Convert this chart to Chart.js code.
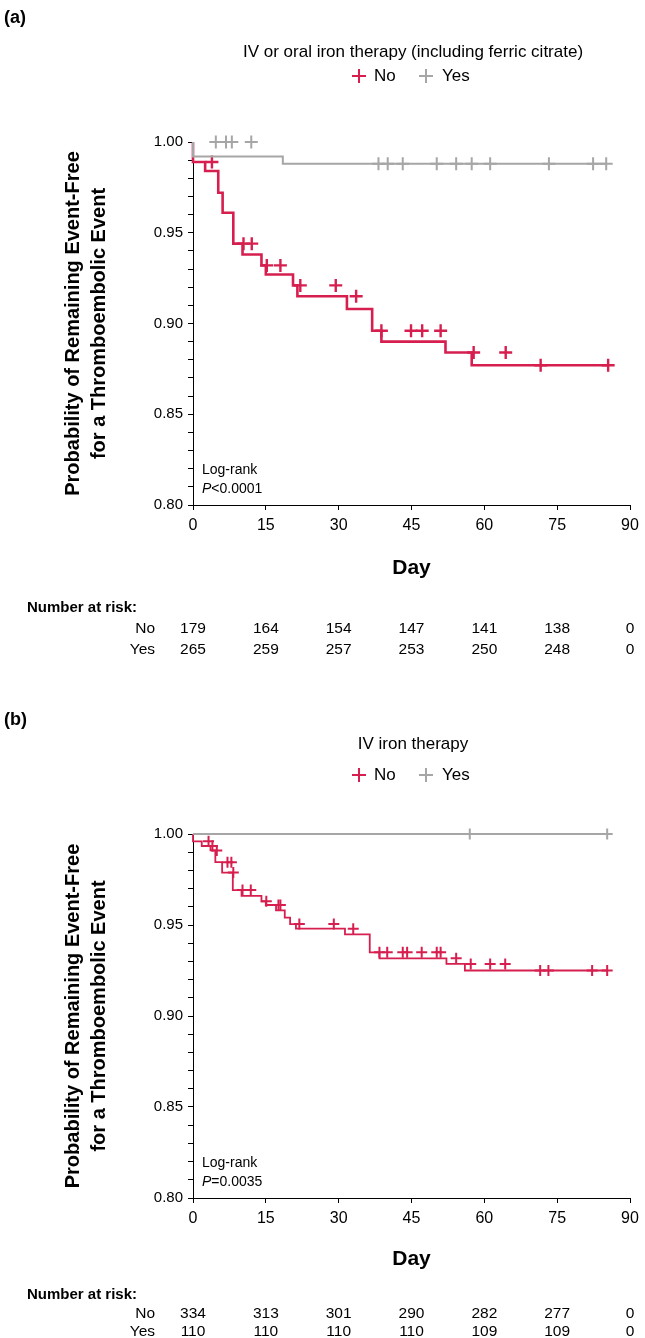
<!DOCTYPE html>
<html>
<head>
<meta charset="utf-8">
<script src="https://cdn.jsdelivr.net/npm/chart.js@4.4.1/dist/chart.umd.min.js"></script>
<style>
  body { margin: 0; width: 645px; height: 1338px; background: #fff; overflow: hidden; }
  canvas { position: absolute; left: 0; }
  #panelA { top: 0; }
  #panelB { top: 660px; }
</style>
</head>
<body>
<canvas id="panelA" width="645" height="660"></canvas>
<canvas id="panelB" width="645" height="678"></canvas>
<script>
const RED = "#d61f4f";
const GREY = "#a6a6a6";
const FONT = '"Liberation Sans", Arial, sans-serif';

const dayTicks = [0, 15, 30, 45, 60, 75, 90];

// (a) IV or oral iron therapy - step times and survival
const aNoT = [0, 2.5, 5.2, 6.1, 8.3, 10.2, 14.1, 15.0, 20.6, 21.5, 31.7, 36.9, 38.8, 52.0, 57.4, 71.3, 85.5];
const aNoS = [1.0, 0.989, 0.984, 0.972, 0.961, 0.944, 0.938, 0.932, 0.927, 0.921, 0.915, 0.908, 0.896, 0.890, 0.884, 0.877, 0.877];
const aNoCens = [3.9, 10.4, 12.1, 15.2, 18.0, 22.1, 29.4, 33.6, 38.8, 44.9, 47.2, 51.0, 57.8, 64.4, 71.6, 85.5];
const aYesT = [0, 18.5, 37.0, 85.1];
const aYesS = [1.0, 0.992, 0.988, 0.988];
const aYesCens = [4.7, 6.8, 8.0, 12.0, 38.2, 40.1, 43.2, 50.2, 54.2, 57.4, 61.2, 73.3, 82.4, 85.1];
const aRiskNo = [179, 164, 154, 147, 141, 138, 0];
const aRiskYes = [265, 259, 257, 253, 250, 248, 0];

// (b) IV iron therapy
const bNoT = [0, 1.8, 3.6, 4.6, 6.0, 8.2, 10.0, 14.1, 15.0, 17.1, 18.9, 20.0, 21.2, 31.3, 36.4, 38.4, 52.2, 56.0, 71.5, 85.3];
const bNoS = [1.0, 0.996, 0.9934, 0.991, 0.9845, 0.9788, 0.9692, 0.966, 0.963, 0.961, 0.958, 0.954, 0.9505, 0.948, 0.9449, 0.935, 0.9317, 0.9286, 0.925, 0.925];
const bNoCens = [3.2, 4.0, 4.9, 7.1, 7.9, 8.3, 10.2, 11.9, 15.1, 17.6, 18.0, 21.9, 29.0, 33.0, 38.4, 40.0, 43.2, 44.1, 47.1, 50.2, 51.0, 54.2, 57.2, 61.2, 64.3, 71.5, 73.2, 82.2, 85.3];
const bYesT = [0, 85.3];
const bYesS = [1.0, 1.0];
const bYesCens = [57.0, 85.3];
const bRiskNo = [334, 313, 301, 290, 282, 277, 0];
const bRiskYes = [110, 110, 110, 110, 109, 109, 0];

const yTitle = ["Probability of Remaining Event-Free", "for a Thromboembolic Event"];

Chart.defaults.font.family = FONT;
Chart.defaults.color = "#000";

function stepPoints(t, s) {
  return t.map((x, i) => ({ x: x, y: s[i] }));
}

// censor mark sits on the curve value at that day
function censorPoints(t, s, c) {
  return c.map((x) => {
    let v = s[0];
    for (let i = 0; i < t.length; i++) if (t[i] <= x) v = s[i];
    return { x: x, y: v };
  });
}

function drawCross(ctx, x, y, r, color, w) {
  ctx.strokeStyle = color;
  ctx.lineWidth = w;
  ctx.beginPath();
  ctx.moveTo(x - r, y); ctx.lineTo(x + r, y);
  ctx.moveTo(x, y - r); ctx.lineTo(x, y + r);
  ctx.stroke();
}

// headers, legend, log-rank note and number-at-risk table
const extras = {
  id: "extras",
  afterDraw(chart, args, o) {
    const ctx = chart.ctx;
    const xs = chart.scales.x;
    const area = chart.chartArea;
    ctx.save();
    ctx.fillStyle = "#000";
    ctx.textBaseline = "middle";

    ctx.font = "bold 18px " + FONT;
    ctx.textAlign = "left";
    ctx.fillText(o.letter, 4, o.letterY);

    ctx.font = "17px " + FONT;
    ctx.textAlign = "center";
    ctx.fillText(o.legendTitle, 413, o.legendTitleY);
    ctx.textAlign = "left";
    drawCross(ctx, 359, o.legendY, 7, RED, 2);
    ctx.fillStyle = "#000";
    ctx.fillText("No", 374, o.legendY);
    drawCross(ctx, 426, o.legendY, 7, GREY, 2);
    ctx.fillStyle = "#000";
    ctx.fillText("Yes", 442, o.legendY);

    // log-rank
    ctx.font = "14px " + FONT;
    ctx.fillText("Log-rank", area.left + 9, area.bottom - 35);
    ctx.font = "italic 14px " + FONT;
    ctx.fillText("P", area.left + 9, area.bottom - 16);
    const pw = ctx.measureText("P").width;
    ctx.font = "14px " + FONT;
    ctx.fillText(o.pText, area.left + 9 + pw, area.bottom - 16);

    // number at risk
    ctx.font = "bold 15px " + FONT;
    ctx.fillText("Number at risk:", 27, o.riskY);
    ctx.font = "15.5px " + FONT;
    ctx.textAlign = "right";
    ctx.fillText("No", 155, o.riskY + o.rowGap);
    ctx.fillText("Yes", 155, o.riskY + 2 * o.rowGap);
    ctx.textAlign = "center";
    dayTicks.forEach((d, i) => {
      const px = xs.getPixelForValue(d);
      ctx.fillText(String(o.riskNo[i]), px, o.riskY + o.rowGap);
      ctx.fillText(String(o.riskYes[i]), px, o.riskY + 2 * o.rowGap);
    });
    ctx.restore();
  },
};

function makePanel(id, cfg) {
  const h = document.getElementById(id).height;
  return new Chart(document.getElementById(id), {
    type: "line",
    data: {
      datasets: [
        { data: stepPoints(cfg.yesT, cfg.yesS), borderColor: GREY, borderWidth: 2, stepped: "after",
          pointRadius: 0, fill: false, clip: false, order: 0 },
        { type: "scatter", data: censorPoints(cfg.yesT, cfg.yesS, cfg.yesCens), pointStyle: "cross",
          pointRadius: cfg.cr, borderColor: GREY, backgroundColor: GREY, borderWidth: 2, showLine: false, clip: false, order: 0 },
        { data: stepPoints(cfg.noT, cfg.noS), borderColor: RED, borderWidth: cfg.lw, stepped: "after",
          pointRadius: 0, fill: false, clip: false, order: 1 },
        { type: "scatter", data: censorPoints(cfg.noT, cfg.noS, cfg.noCens), pointStyle: "cross",
          pointRadius: cfg.cr, borderColor: RED, backgroundColor: RED, borderWidth: cfg.cw, showLine: false, clip: false, order: 1 },
      ],
    },
    options: {
      responsive: false,
      animation: false,
      devicePixelRatio: 1,
      layout: { padding: { top: cfg.top, right: 15, bottom: h - cfg.bottom - cfg.xh, left: 60 } },
      plugins: {
        legend: { display: false },
        tooltip: { enabled: false },
        extras: cfg.extras,
      },
      scales: {
        x: {
          type: "linear", min: 0, max: 90,
          afterFit: (s) => { s.height = cfg.xh; },
          ticks: { stepSize: 15, padding: 6, font: { size: 16 }, maxRotation: 0, color: "#000" },
          grid: { drawOnChartArea: false, tickLength: 5, color: "#000" },
          border: { color: "#000", width: 1 },
          title: { display: true, text: "Day", font: { size: 21, weight: "bold" }, color: "#000", padding: 0 },
        },
        y: {
          min: 0.8, max: 1.0,
          afterFit: (s) => { s.width = 133; },
          ticks: {
            stepSize: 0.01, autoSkip: false, padding: 5, font: { size: 15 }, color: "#000",
            callback: (v) => (Math.round(v * 100) % 5 === 0 ? v.toFixed(2) : ""),
          },
          grid: { drawOnChartArea: false, tickLength: 5, color: "#000" },
          border: { color: "#000", width: 1 },
          title: { display: true, text: yTitle, font: { size: 20, weight: "bold", lineHeight: 1.3 }, color: "#000", padding: 0 },
        },
      },
    },
    plugins: [extras],
  });
}

makePanel("panelA", {
  noT: aNoT, noS: aNoS, noCens: aNoCens, yesT: aYesT, yesS: aYesS, yesCens: aYesCens, lw: 2.6, cr: 6.5, cw: 2.4,
  top: 142, bottom: 505, xh: 76,
  extras: { letter: "(a)", letterY: 18, legendTitle: "IV or oral iron therapy (including ferric citrate)",
    legendTitleY: 52, legendY: 76, pText: "<0.0001", riskY: 608, rowGap: 21, riskNo: aRiskNo, riskYes: aRiskYes },
});

makePanel("panelB", {
  noT: bNoT, noS: bNoS, noCens: bNoCens, yesT: bYesT, yesS: bYesS, yesCens: bYesCens, lw: 1.8, cr: 5.5, cw: 2,
  top: 174, bottom: 538, xh: 74,
  extras: { letter: "(b)", letterY: 60, legendTitle: "IV iron therapy",
    legendTitleY: 84, legendY: 115, pText: "=0.0035", riskY: 635, rowGap: 18.5, riskNo: bRiskNo, riskYes: bRiskYes },
});
</script>
</body>
</html>
